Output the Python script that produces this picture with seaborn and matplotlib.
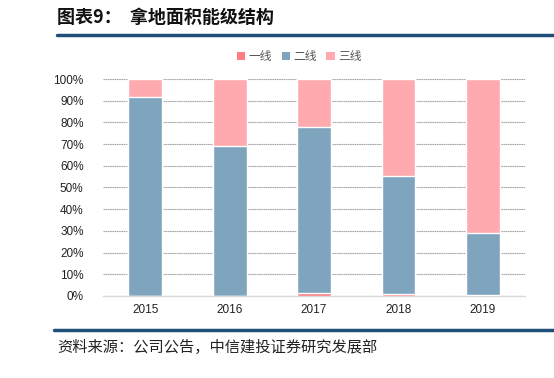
import matplotlib
matplotlib.use("Agg")
import matplotlib.pyplot as plt
from matplotlib.lines import Line2D
from matplotlib.patches import Patch
import seaborn as sns
import pandas as pd

# data (share of land area, %)
years = ["2015", "2016", "2017", "2018", "2019"]
tier1 = [0.0, 0.0, 1.5, 1.0, 0.3]
tier2 = [91.5, 69.0, 76.5, 54.5, 28.7]
tier3 = [8.5, 31.0, 22.0, 44.5, 71.0]
series = ["一线", "二线", "三线"]
colors = ["#FF7C80", "#7FA4BD", "#FFAAAE"]

sns.set_theme(style="white")
plt.rcParams["font.family"] = ["Liberation Sans", "Noto Sans CJK SC", "DejaVu Sans"]

df = pd.DataFrame({"year": years, "t1": tier1, "t2": tier2, "t3": tier3})
df["c2"] = df["t1"] + df["t2"]
df["c3"] = df["c2"] + df["t3"]

fig = plt.figure(figsize=(5.54, 3.78), dpi=100)
ax = fig.add_axes([0.186, 0.217, 0.762, 0.574])

# stacked bars: draw cumulative totals back to front
for col, c in zip(["c3", "c2", "t1"], [colors[2], colors[1], colors[0]]):
    sns.barplot(data=df, x="year", y=col, color=c, width=0.4,
                saturation=1, ax=ax, zorder=3)

ax.set_ylim(0, 100)
ax.set_yticks(range(0, 101, 10))
ax.set_yticklabels([f"{v}%" for v in range(0, 101, 10)], fontsize=8.5, color="#222222")
ax.tick_params(axis="x", labelsize=8.5, colors="#222222", length=0, pad=6)
ax.tick_params(axis="y", length=0, pad=14)
ax.set_xlabel("")
ax.set_ylabel("")
ax.yaxis.grid(True, color="#A6A6A6", linestyle=(0, (1.5, 0.5)), linewidth=0.8, zorder=0)
for s in ["top", "right", "left"]:
    ax.spines[s].set_visible(False)
ax.spines["bottom"].set_color("#D9D9D9")
ax.spines["bottom"].set_linewidth(1.0)
ax.set_xlim(-0.5, 4.5)

handles = [Patch(facecolor=c, edgecolor="none") for c in colors]
fig.legend(handles, series, loc="center", bbox_to_anchor=(0.54, 0.848), ncol=3,
           frameon=False, fontsize=8.5, handlelength=0.7, handleheight=0.7,
           handletextpad=0.3, columnspacing=0.8, labelcolor="#555555")

# title and blue rules
fig.text(0.103, 0.955, "图表9：  拿地面积能级结构", fontsize=13, fontweight="bold",
         va="center", ha="left", color="#111111",
         family=["Noto Sans CJK SC", "DejaVu Sans"])
fig.add_artist(Line2D([0.103, 1.0], [0.907, 0.907], color="#1F4E79", linewidth=2.5))
fig.add_artist(Line2D([0.097, 1.0], [0.127, 0.127], color="#1F4E79", linewidth=2.5))
fig.text(0.103, 0.082, "资料来源：公司公告，中信建投证券研究发展部", fontsize=11,
         va="center", ha="left", color="#222222", style="italic",
         family=["Noto Sans CJK SC", "DejaVu Sans"])

fig.savefig("out.png", dpi=100)
